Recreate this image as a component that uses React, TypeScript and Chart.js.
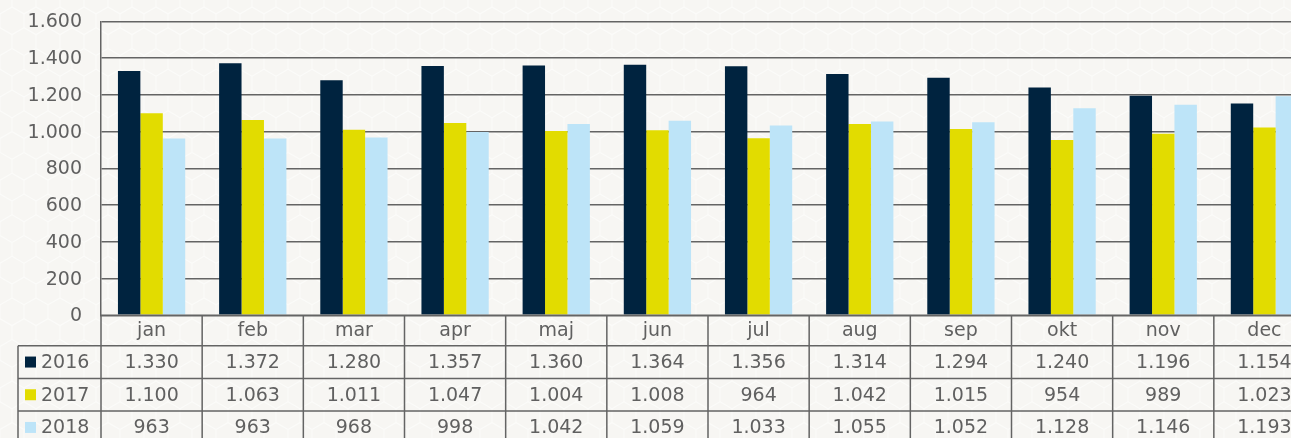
import React, { useEffect, useRef } from "react";
import { Chart, registerables } from "chart.js";

Chart.register(...registerables);

const months = ["jan", "feb", "mar", "apr", "maj", "jun", "jul", "aug", "sep", "okt", "nov", "dec"];
const seriesNames = ["2016", "2017", "2018"];
const values2016 = [1330, 1372, 1280, 1357, 1360, 1364, 1356, 1314, 1294, 1240, 1196, 1154];
const values2017 = [1100, 1063, 1011, 1047, 1004, 1008, 964, 1042, 1015, 954, 989, 1023];
const values2018 = [963, 963, 968, 998, 1042, 1059, 1033, 1055, 1052, 1128, 1146, 1193];
const colors = ["#00233f", "#e2dc00", "#bde4f8"];

const FONT = '"DejaVu Sans", sans-serif';
const TEXT = "#606060";
const LINE = "#646464";

const fmt = (v: number) => v.toLocaleString("de-DE");

const bgPlugin = {
  id: "hexbg",
  beforeDraw(chart: any) {
    const { ctx, width, height } = chart;
    ctx.save();
    ctx.fillStyle = "#f7f6f3";
    ctx.fillRect(0, 0, width, height);
    ctx.strokeStyle = "#fbfbf9";
    ctx.lineWidth = 1.2;
    const w = 24;
    const r = w / Math.sqrt(3);
    const dy = 1.5 * r;
    ctx.beginPath();
    for (let row = -1; row * dy < height + r; row++) {
      const cy = row * dy;
      const off = row % 2 === 0 ? 0 : w / 2;
      for (let cx = -w + off; cx < width + w; cx += w) {
        for (let k = 0; k < 6; k++) {
          const a1 = (Math.PI / 3) * k - Math.PI / 2;
          const a2 = (Math.PI / 3) * (k + 1) - Math.PI / 2;
          ctx.moveTo(cx + r * Math.cos(a1), cy + r * Math.sin(a1));
          ctx.lineTo(cx + r * Math.cos(a2), cy + r * Math.sin(a2));
        }
      }
    }
    ctx.stroke();
    ctx.restore();
  },
};

const tablePlugin = {
  id: "datatable",
  afterDraw(chart: any) {
    const { ctx, chartArea } = chart;
    const x = chart.scales.x;
    const y = chart.scales.y;
    const n = months.length;
    const cw = (chartArea.right - chartArea.left) / n;
    const top = chartArea.bottom;
    const headerH = 30.4;
    const rowH = 32.7;
    const legendLeft = 18;
    const rows = [values2016, values2017, values2018];
    const bottom = top + headerH + rowH * rows.length;
    ctx.save();
    ctx.strokeStyle = LINE;
    ctx.lineWidth = 1.5;
    ctx.beginPath();
    ctx.moveTo(chartArea.left, top);
    ctx.lineTo(chartArea.right + 10, top);
    for (let r = 0; r <= rows.length; r++) {
      const yy = top + headerH + rowH * r;
      ctx.moveTo(legendLeft, yy);
      ctx.lineTo(chartArea.right + 10, yy);
    }
    for (let i = 0; i <= n; i++) {
      const xx = chartArea.left + cw * i;
      ctx.moveTo(xx, top);
      ctx.lineTo(xx, bottom);
    }
    ctx.moveTo(legendLeft, top + headerH);
    ctx.lineTo(legendLeft, bottom);
    ctx.stroke();

    ctx.fillStyle = TEXT;
    ctx.font = `19px ${FONT}`;
    ctx.textBaseline = "middle";

    ctx.textAlign = "right";
    y.ticks.forEach((t: any) => {
      ctx.fillText(fmt(t.value), chartArea.left - 19, y.getPixelForValue(t.value) + 1);
    });

    ctx.textAlign = "center";
    months.forEach((m, i) => {
      const cx = x.getPixelForValue(i);
      ctx.fillText(m, cx, top + headerH / 2 + 1);
    });
    rows.forEach((vals, r) => {
      const cy = top + headerH + rowH * r + rowH / 2 + 1;
      vals.forEach((v, i) => {
        const cx = x.getPixelForValue(i);
        ctx.fillText(fmt(v), cx, cy);
      });
      ctx.fillStyle = colors[r];
      ctx.fillRect(25, cy - 6.5, 11, 11);
      ctx.fillStyle = TEXT;
      ctx.textAlign = "left";
      ctx.fillText(seriesNames[r], 41, cy);
      ctx.textAlign = "center";
    });
    ctx.restore();
  },
};

export default function App() {
  const ref = useRef<HTMLCanvasElement | null>(null);
  useEffect(() => {
    if (!ref.current) return;
    const chart = new Chart(ref.current, {
      type: "bar",
      data: {
        labels: months,
        datasets: [values2016, values2017, values2018].map((d, i) => ({
          label: seriesNames[i],
          data: d,
          backgroundColor: colors[i],
          borderWidth: 0,
          categoryPercentage: 0.665,
          barPercentage: 1,
        })),
      },
      options: {
        animation: false,
        responsive: false,
        maintainAspectRatio: false,
        layout: { padding: { top: 21.5, bottom: 134.7, left: 0, right: 1 } },
        plugins: { legend: { display: false }, tooltip: { enabled: false } },
        scales: {
          x: { display: false },
          y: {
            min: 0,
            max: 1600,
            ticks: { stepSize: 200, display: false },
            grid: { color: LINE, lineWidth: 1.5, drawTicks: false },
            border: { display: true, color: LINE, width: 1.5 },
            afterFit: (s: any) => {
              s.width = 101;
            },
          },
        },
      },
      plugins: [bgPlugin, tablePlugin],
    });
    return () => chart.destroy();
  }, []);
  return (
    <div
      style={{
        position: "fixed",
        left: 0,
        top: 0,
        width: 1291,
        height: 438,
        overflow: "hidden",
        background: "#f7f6f3",
      }}
    >
      <canvas ref={ref} width={1316} height={450} style={{ display: "block", width: 1316, height: 450 }} />
    </div>
  );
}
